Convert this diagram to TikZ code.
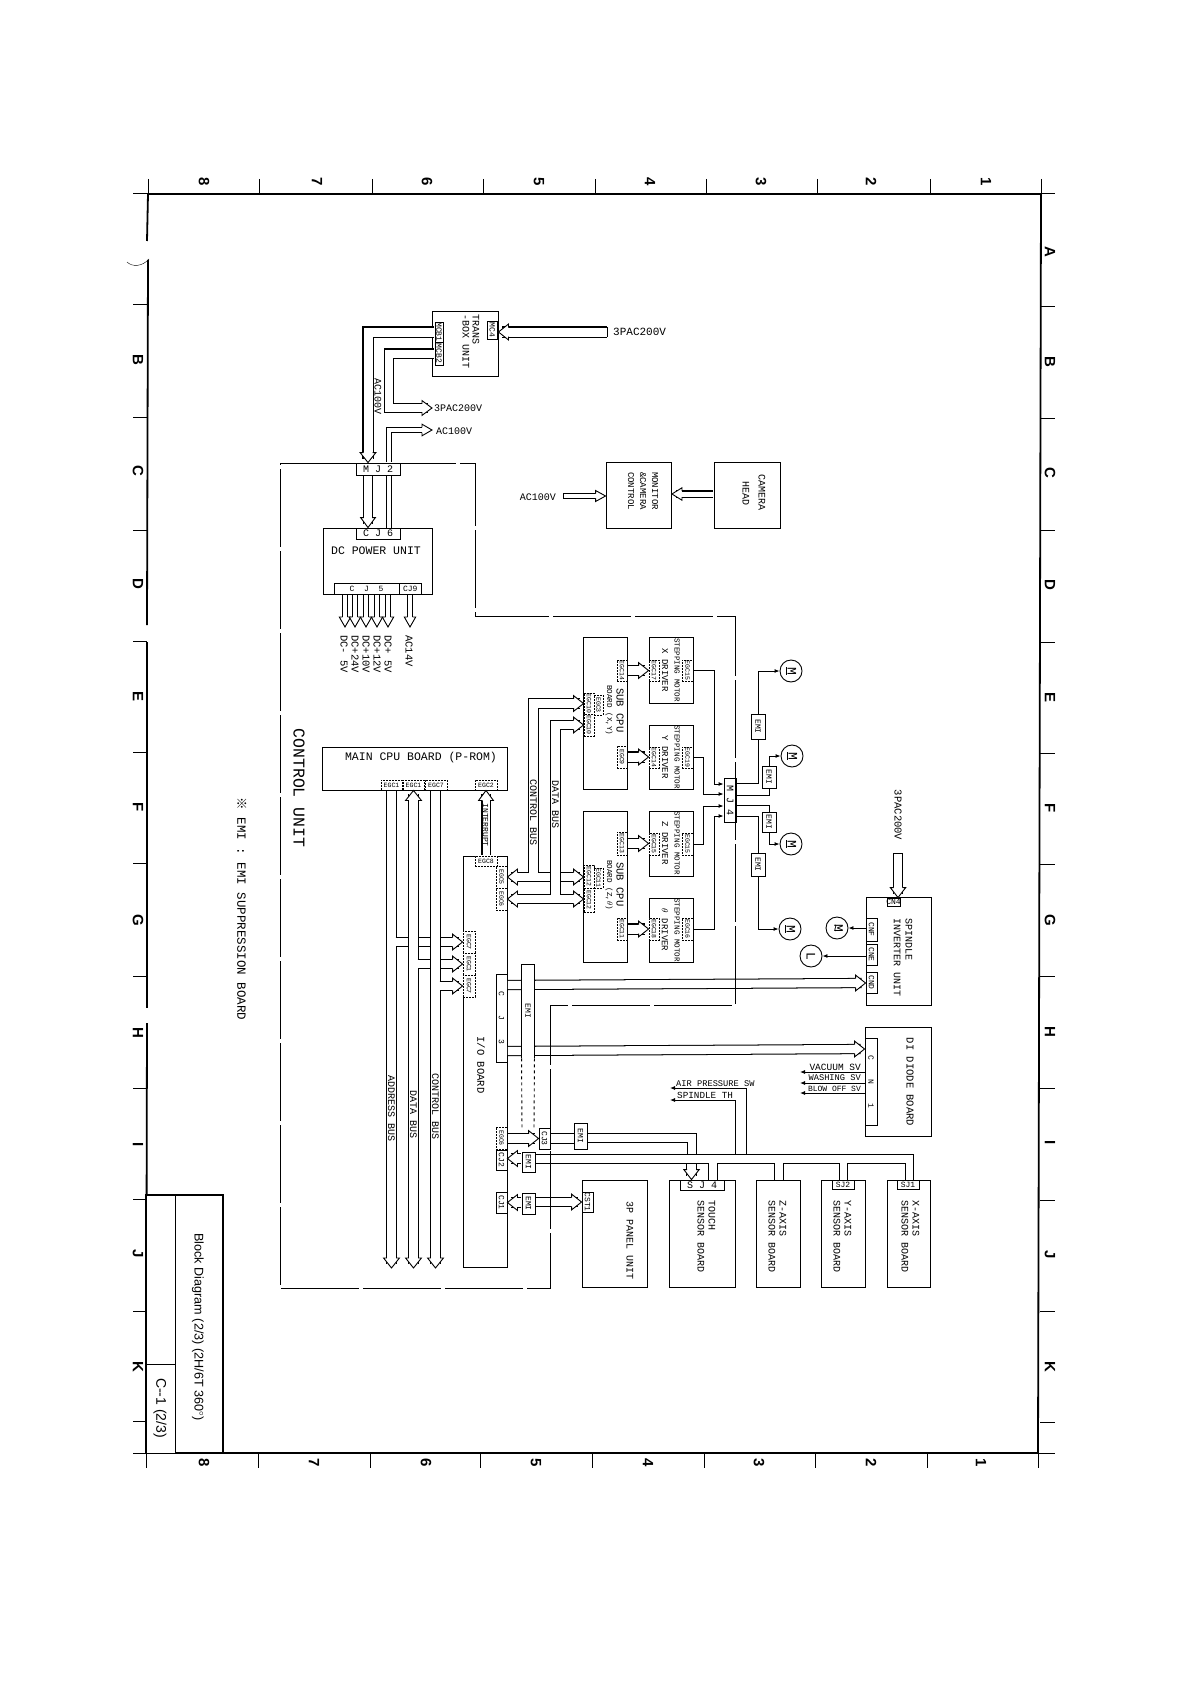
\documentclass[tikz,border=0pt]{standalone}
\usepackage{fontspec}
\setmainfont{Liberation Mono}
\newfontfamily\titlefont{Liberation Sans}
\newfontfamily\notefont{Noto Sans CJK JP}
\usetikzlibrary{arrows.meta}
\usetikzlibrary{fit}

\tikzset{
    box/.style={draw, fill=white, inner sep=0pt, line width=.9pt},
    egcline/.style={box, dash pattern=on 2pt off 1pt},
    wire/.style={line width=.9pt},
    wireto/.style={wire, -{Latex[length=5pt,width=4pt]}},
    ctrlline/.style={line width=.9pt, dash pattern=on 78pt off 4pt},
    framel/.style={line width=1.8pt},
    tickl/.style={line width=1pt},
    bus/.style={line width=1.01pt, double, double distance=#1, shorten <=.4pt},
    tohead/.style={shorten >=4pt},
    lab/.style={inner sep=0pt, font=\fontsize{10}{11}\selectfont},
    vlab/.style={lab, rotate=-90},
    smallv/.style={vlab, font=\fontsize{7.6}{9}\selectfont},
    conv/.style={vlab, font=\fontsize{8}{9}\selectfont},
    conh/.style={lab, font=\fontsize{8}{9}\selectfont},
    conw/.style={lab},
    convw/.style={vlab},
    egcv/.style={vlab, font=\fontsize{6.5}{7}\selectfont},
    egch/.style={lab, font=\fontsize{6.5}{7}\selectfont},
    gridlab/.style={inner sep=0pt, rotate=-90, font=\titlefont\bfseries\fontsize{15}{15}\selectfont},
    motor/.style={draw, fill=white, circle, inner sep=0pt, minimum size=22pt, line width=.9pt, font=\fontsize{13}{13}\selectfont},
    pics/bushead/.style={code={
        \draw[wire, fill=white] (-10,-#1) -- (-10,{-(#1+3.2)}) -- (0,0) -- (-10,{#1+3.2}) -- (-10,#1);
    }}
}

% box with a text in the middle
\newcommand{\conn}[7][conv]{%
    \node[box, fit={(#3,#4) (#5,#6)}] (#2) {};
    \node[#1] (#2lab) at (#2) {#7};
}
\newcommand{\egcbox}[7][egcv]{%
    \node[egcline, fit={(#3,#4) (#5,#6)}] (#2) {};
    \node[#1] (#2lab) at (#2) {#7};
}
\newcommand{\bushead}[3][4.7]{\pic[rotate=#2] at (#3) {bushead=#1};}

\begin{document}
\begin{tikzpicture}[x=1pt, y=-1pt]
    \useasboundingbox (0,0) rectangle (1191,1685);

    % sheet frame
    \draw[framel] (148,194) -- (1041,194) -- (1038,1453) -- (146,1453);
    \draw[framel] (148,194) -- (147,241);
    \draw[framel] (148,260) -- (147,625);
    \draw[framel] (147,642) -- (147,1008);
    \draw[framel] (147,1023) -- (146,1453);
    \draw (127,262) .. controls (132,267) and (142,267) .. (149,259);
    \foreach \x in {148,259,372,483,595,706,817,930,1041}
        \draw[tickl] (\x,179) -- (\x,194);
    \foreach \x in {146,258,370,480,592,704,815,927,1038}
        \draw[tickl] (\x,1453) -- (\x,1468);
    \foreach \y in {307,418,530,642,753,864,976,1088,1200,1311,1422}
        \draw[tickl] (1040,\y) -- (1055,\y);
    \foreach \y in {305,417,530,641,752,863,976,1088,1199,1311,1421}
        \draw[tickl] (133,\y) -- (147,\y);
    \draw[tickl] (133,194) -- (148,194);
    \draw[tickl] (1041,194) -- (1055,194);
    \draw[tickl] (133,1453) -- (146,1453);
    \draw[tickl] (1038,1453) -- (1055,1453);
    \foreach \n/\x in {8/204,7/317,6/427,5/539,4/650,3/761,2/871,1/986}
        \node[gridlab] (top\n) at (\x,182) {\n};
    \foreach \n/\x in {8/204,7/314,6/426,5/536,4/648,3/759,2/871,1/981}
        \node[gridlab] (bot\n) at (\x,1463) {\n};
    \foreach \n/\y in {A/252,B/362,C/473,D/585,E/697,F/808,G/920,H/1032,I/1143,J/1255,K/1367}
        \node[gridlab] (right\n) at (1050,\y) {\n};
    \foreach \n/\y in {B/360,C/471,D/584,E/696,F/807,G/920,H/1033,I/1145,J/1254,K/1367}
        \node[gridlab] (left\n) at (138,\y) {\n};

    % title block
    \node[box, fit={(146,1195) (223,1453)}, line width=1.4pt] (titlebox) {};
    \node[box, fit={(146,1195) (175,1453)}] (titleleft) {};
    \node[box, fit={(146,1364) (175,1453)}] (titlenum) {};
    \node[inner sep=0pt, rotate=-90, font=\titlefont\fontsize{12.6}{14}\selectfont] (titletext) at (198,1327) {Block Diagram (2/3) (2H/6T 360$^\circ$)};
    \node[inner sep=0pt, rotate=-90, font=\titlefont\fontsize{14}{16}\selectfont] (titlesheet) at (160,1408) {C--1 (2/3)};

    % units
    \node[box, fit={(432.5,311) (498,376)}] (trans) {};
    \node[box, fit={(323,528) (432,594)}] (power) {};
    \node[box, fit={(606,462) (671.5,528)}] (monitor) {};
    \node[box, fit={(714,462) (780,528)}] (camera) {};
    \node[box, fit={(322,747) (507,790)}] (maincpu) {};
    \node[box, fit={(463,856) (507,1267)}] (ioboard) {};
    \node[box, fit={(583,637) (627,789)}] (subxy) {};
    \node[box, fit={(583,811) (627,962)}] (subzt) {};
    \node[box, fit={(649,637) (693,703)}] (drvx) {};
    \node[box, fit={(649,725) (693,789)}] (drvy) {};
    \node[box, fit={(649,811) (693,876)}] (drvz) {};
    \node[box, fit={(649,898) (693,962)}] (drvt) {};
    \node[box, fit={(866,897) (931,1005)}] (spindle) {};
    \node[box, fit={(865,1027) (931,1136)}] (diode) {};
    \node[box, fit={(582,1180) (647,1287)}] (panel) {};
    \node[box, fit={(669,1180) (735,1287)}] (touch) {};
    \node[box, fit={(756,1180) (800,1287)}] (zaxis) {};
    \node[box, fit={(821,1180) (865,1287)}] (yaxis) {};
    \node[box, fit={(887,1180) (930,1287)}] (xaxis) {};

    % connectors
    \conn{mc4}{487.5}{321}{497}{339}{MC4}
    \conn{mcb1}{435}{322}{443}{342}{MCB1}
    \conn{mcb2}{435}{342}{443}{365}{MCB2}
    \conn[conw]{mj2}{356}{463}{400}{475}{M~J~2}
    \conn[conw]{cj6}{356}{528}{400}{539}{C~J~6}
    \conn[conh]{cj5}{334}{583}{399}{594}{C~~J~~5}
    \conn[conh]{cj9}{399}{583}{421.5}{594}{CJ9}
    \conn[convw]{mj4}{724}{778}{736}{822}{M~J~4}
    \conn[conh]{cn4}{887}{898}{900}{906}{CN4}
    \conn{cnf}{866}{918}{877}{941}{CNF}
    \conn{cne}{866}{944}{877}{965}{CNE}
    \conn{cnd}{866}{972}{877}{993}{CND}
    \conn{cndi}{865}{1038}{877}{1125}{C~~~~N~~~~1}
    \conn{cjio}{496}{974}{507}{1062}{C~~~~J~~~~3}
    \conn{cjb}{496}{1150}{507}{1170}{CJ2}
    \conn{cja}{496}{1192}{507}{1213}{CJ1}
    \conn{cjc}{539}{1128}{550}{1149}{CJ3}
    \conn{cst}{582}{1192}{593}{1212}{CST1}
    \conn[conw]{sj4}{680}{1180}{724}{1190}{S~J~4}
    \conn[conh]{sj2}{832}{1180}{854}{1189}{SJ2}
    \conn[conh]{sj1}{897}{1180}{919}{1189}{SJ1}

    % EGC connectors
    \egcbox[egch]{egca}{381}{780}{402}{790}{EGC1}
    \egcbox[egch]{egcb}{403}{780}{424}{790}{EGC1}
    \egcbox[egch]{egcc}{425}{780}{447}{790}{EGC7}
    \egcbox[egch]{egcd}{475}{780}{497}{790}{EGC2}
    \egcbox[egch]{egce}{475}{856}{497}{866}{EGC8}
    \egcbox{egcf}{496}{866}{507}{888}{EGC5}
    \egcbox{egcg}{496}{888}{507}{910}{EGC6}
    \egcbox{egch}{463}{931}{475}{953}{EGC7}
    \egcbox{egci}{463}{953}{475}{975}{EGC1}
    \egcbox{egcj}{463}{975}{475}{997}{EGC7}
    \egcbox{egck}{496}{1127}{507}{1149}{EGC6}
    \egcbox{egxa}{617}{660}{627}{681}{EGC14}
    \egcbox{egxb}{617}{746}{627}{768}{EGC9}
    \egcbox{egxc}{584}{693}{594}{714}{EGC10}
    \egcbox{egxd}{584}{714}{594}{736}{EGC10}
    \egcbox{egxe}{594}{695}{603}{715}{EGC3}
    \egcbox{egza}{617}{832}{627}{855}{EGC13}
    \egcbox{egzb}{617}{918}{627}{940}{EGC11}
    \egcbox{egzc}{584}{865}{594}{888}{EGC12}
    \egcbox{egzd}{584}{888}{594}{912}{EGC12}
    \egcbox{egze}{594}{868}{603}{888}{EGC11}
    \egcbox{dxa}{649}{660}{659}{681}{EGC17}
    \egcbox{dxb}{682}{660}{693}{681}{EGC15}
    \egcbox{dya}{649}{747}{659}{768}{EGC14}
    \egcbox{dyb}{682}{747}{693}{768}{EGC19}
    \egcbox{dza}{649}{833}{659}{855}{EGC15}
    \egcbox{dzb}{682}{833}{693}{855}{EGC15}
    \egcbox{dta}{649}{918}{659}{940}{EGC18}
    \egcbox{dtb}{682}{918}{693}{940}{EGC16}

    % free ends
    \coordinate (pacin) at (607,332);
    \coordinate (pacout) at (432,408);
    \coordinate (acout) at (432,430);
    \coordinate (acin) at (563,496);
    \coordinate (pacsp) at (898,853);
    \coordinate (adrend) at (391.5,1268);
    \coordinate (datend) at (413.5,1268);
    \coordinate (ctlend) at (435.5,1268);

    % power side
    \draw[bus=9pt, tohead] (pacin) -- (trans.east |- pacin);
    \bushead{180}{trans.east |- pacin}
    \draw[wire] ([yshift=-5pt]pacin) -- ([yshift=5pt]pacin);
    \draw[bus=9pt, tohead] (mcb1.west) -| (368,0 |- mj2.north);
    \bushead{-90}{368,0 |- mj2.north}
    \draw[bus=8pt, tohead] (mcb2.west) -| (389,408) -- (pacout);
    \bushead[4.2]{0}{pacout}
    \draw[bus=4pt, tohead] (389,0 |- mj2.north) |- (acout);
    \bushead[2.6]{0}{acout}
    \draw[bus=8pt, tohead] (368,0 |- mj2.south) -- (368,0 |- cj6.north);
    \bushead[4.2]{-90}{368,0 |- cj6.north}
    \draw[bus=3.4pt] (389,0 |- mj2.south) -- (389,0 |- cj6.north);
    \foreach \x in {345,355,366,377,388} {
        \draw[bus=4pt, tohead] (\x,0 |- cj5.south) -- (\x,627);
        \bushead[2.5]{-90}{\x,627}
    }
    \draw[bus=4pt, tohead] (410,0 |- cj9.south) -- (410,627);
    \bushead[2.5]{-90}{410,627}

    % camera
    \draw[bus=5pt, tohead] (camera.west |- 0,494) -- (monitor.east |- 0,494);
    \bushead[3]{180}{monitor.east |- 0,494}
    \draw[bus=3.7pt, tohead] (acin) -- (monitor.west |- acin);
    \bushead[2.3]{0}{monitor.west |- acin}
    \draw[wire] ([yshift=-2.3pt]acin) -- ([yshift=2.3pt]acin);

    % main buses
    \draw[bus=8.2pt, tohead] (391.5,0 |- egca.south) -- (adrend);
    \bushead{-90}{adrend}
    \draw[bus=8.2pt, tohead] (395.2,942) -- (egch.west);
    \bushead{0}{egch.west}
    \draw[bus=8.2pt, tohead, shorten <=4pt] (413.5,0 |- egcb.south) -- (datend);
    \bushead{90}{413.5,0 |- egcb.south}
    \bushead{-90}{datend}
    \draw[bus=8.2pt, tohead] (417.2,964) -- (egci.west);
    \bushead{0}{egci.west}
    \draw[bus=8.2pt, tohead] (435.5,0 |- egcc.south) -- (ctlend);
    \bushead{-90}{ctlend}
    \draw[bus=8.2pt, tohead] (439.2,986) -- (egcj.west);
    \bushead{0}{egcj.west}
    \draw[bus=7pt, shorten >=4pt] (egce.north) -- (egcd.south);
    \bushead[4.2]{90}{egcd.south}

    % sub cpu buses
    \draw[bus=8.2pt, tohead, shorten <=4pt] (egcf.east) -- (egzc.west |- egcf.east);
    \bushead{180}{egcf.east}
    \bushead{0}{egzc.west |- egcf.east}
    \draw[bus=8.2pt, tohead, shorten <=4pt] (egcg.east) -- (egzd.west |- egcg.east);
    \bushead{180}{egcg.east}
    \bushead{0}{egzd.west |- egcg.east}
    \draw[bus=8.2pt, tohead] (533.5,873.4) |- (egxc.west);
    \bushead{0}{egxc.west}
    \draw[bus=8.2pt, tohead] (555.5,895.4) |- (egxd.west);
    \bushead{0}{egxd.west}
    \foreach \a/\b in {egxa/dxa,egxb/dya,egza/dza,egzb/dta} {
        \draw[bus=9pt, tohead] (\a.east) -- (\b.west |- \a.east);
        \bushead{0}{\b.west |- \a.east}
    }

    % stepping motors
    \draw[wireto] (dxb.east) -| (714,784) -- (mj4.west |- 0,784);
    \draw[wireto] (dyb.east) -| (703,794) -- (mj4.west |- 0,794);
    \draw[wireto] (dzb.east) -| (703,806) -- (mj4.west |- 0,806);
    \draw[wireto] (dtb.east) -| (714,816) -- (mj4.west |- 0,816);
    \conn{emia}{751}{714}{765}{739}{EMI}
    \conn{emib}{762}{766}{776}{788}{EMI}
    \conn{emic}{762}{812}{776}{832}{EMI}
    \conn{emid}{751}{853}{765}{876}{EMI}
    \node[motor] (moa) at (791,671) {\rotatebox{-90}{\underline{M}}};
    \node[motor] (mob) at (792,756) {\rotatebox{-90}{\underline{M}}};
    \node[motor] (moc) at (791,844) {\rotatebox{-90}{\underline{M}}};
    \node[motor] (mod) at (790,929) {\rotatebox{-90}{\underline{M}}};
    \node[motor] (mos) at (837,928) {\rotatebox{-90}{\shortstack{M\\[-5pt]\textasciitilde}}};
    \node[motor] (lamp) at (811,956) {\rotatebox{-90}{L}};
    \draw[wire] (mj4.east |- 0,783) -| (emia.south);
    \draw[wireto] (emia.north) |- (moa.west);
    \draw[wire] (mj4.east |- 0,795) -| (emib.south);
    \draw[wireto] (emib.north) |- (mob.west);
    \draw[wire] (mj4.east |- 0,805) -| (emic.north);
    \draw[wireto] (emic.south) |- (moc.west);
    \draw[wire] (mj4.east |- 0,816) -| (emid.north);
    \draw[wireto] (emid.south) |- (mod.west);

    % spindle
    \draw[wireto] (cnf.west |- mos.east) -- (mos.east);
    \draw[wireto] (cne.west |- lamp.east) -- (lamp.east);
    \draw[bus=8.2pt, tohead] (pacsp) -- (pacsp |- cn4.north);
    \bushead[4.5]{-90}{pacsp |- cn4.north}
    \draw[wire] ([xshift=-4.5pt]pacsp) -- ([xshift=4.5pt]pacsp);

    % i/o board outputs
    \draw[bus=8.2pt, tohead] (cjio.east |- 0,985) -- (cnd.west |- 0,983);
    \bushead{0}{cnd.west |- 0,983}
    \draw[bus=8.2pt, tohead] (cjio.east |- 0,1051) -- (cndi.west |- 0,1049);
    \bushead{0}{cndi.west |- 0,1049}
    \node[box, draw=none, fit={(522,965) (534,1058)}] (emistrip) {};
    \draw[wire] (emistrip.south west) -- (emistrip.north west) -- (emistrip.north east) -- (emistrip.south east);
    \node[conv] (emistriplab) at (528,1011) {EMI};
    \conn{emil}{522}{1152}{535}{1172}{EMI}
    \conn{emip}{522}{1193}{535}{1214}{EMI}
    \conn{emit}{574}{1123}{587}{1149}{EMI}
    \draw[wire, dashed] (emistrip.south west) -- (522,1130);
    \draw[wire, dashed] (emistrip.south east) -- (534,1130);
    \draw[bus=9pt, tohead] (egck.east |- cjc.west) -- (cjc.west);
    \bushead{0}{cjc.west}
    \draw[bus=8.2pt] (cjc.east) -- (emit.west |- cjc.east);
    \draw[bus=8.2pt, tohead] (emil.west |- 0,1158.5) -- (cjb.east |- 0,1158.5);
    \bushead{180}{cjb.east |- 0,1158.5}
    \draw[bus=8.2pt, tohead] (emip.west |- cja.east) -- (cja.east);
    \bushead{180}{cja.east}
    \draw[bus=8.2pt, tohead] (emip.east |- cst.west) -- (cst.west);
    \bushead{0}{cst.west}

    % sensor boards
    \coordinate (jpa) at (687,1154);
    \coordinate (jpb) at (696,1154);
    \coordinate (jth) at (735,1154);
    \coordinate (jair) at (746,1154);
    \coordinate (airend) at (670,1088);
    \coordinate (thend) at (670,1100);
    \draw[wire] (emit.east |- 0,1133) -| (jpb);
    \draw[wire] (emit.east |- 0,1142) -| (jpa);
    \draw[wire] (emil.east |- 0,1154) -| (913,0 |- sj1.north);
    \draw[wire] (emil.east |- 0,1163) -| (708,0 |- sj4.north);
    \draw[wire] (717,0 |- sj4.north) -- (717,1163) -| (774,0 |- zaxis.north);
    \draw[wire] (783,0 |- zaxis.north) -- (783,1163) -| (839,0 |- sj2.north);
    \draw[wire] (847,0 |- sj2.north) -- (847,1163) -| (905,0 |- sj1.north);
    \draw[bus=8.2pt, tohead] (691.5,1163.6) -- (691.5,0 |- sj4.north);
    \bushead[4.5]{-90}{691.5,0 |- sj4.north}
    \draw[wireto] (jair) |- (airend);
    \draw[wireto] (jth) |- (thend);
    \draw[wireto] (diode.west |- 0,1072) -- (800,1072);
    \draw[wireto] (diode.west |- 0,1083) -- (800,1083);
    \draw[wireto] (diode.west |- 0,1093) -- (800,1093);

    % control unit border
    \draw[ctrlline] (mj2.west |- 0,463) -- (280,463) -- (280,1288) -- (550,1288) -- (550,1005) -- (735,1005) -- (735,616) -- (475,616) -- (475,463) -- (mj2.east |- 0,463);

    % texts of the top part
    \node[lab, font=\fontsize{11}{12}\selectfont, anchor=west] (tpaca) at (613,332) {3PAC200V};
    \node[vlab, anchor=west] (ttrans) at (476,314) {TRANS};
    \node[vlab, anchor=west] (tbox) at (466,314) {-BOX UNIT};
    \node[vlab] (tacv) at (378,397) {AC100V};
    \node[lab, anchor=west] (tpacb) at (434,408) {3PAC200V};
    \node[lab, anchor=west] (tacb) at (436,431) {AC100V};
    \node[lab, anchor=east] (taca) at (556,497) {AC100V};
    \node[lab, font=\fontsize{11.5}{12}\selectfont] (tpower) at (376,551) {DC POWER UNIT};
    \node[vlab] (tcama) at (762,493) {CAMERA};
    \node[vlab] (tcamb) at (746,493) {HEAD};
    \node[vlab, font=\fontsize{9}{10}\selectfont] (tmona) at (655,491) {MONITOR};
    \node[vlab, font=\fontsize{9}{10}\selectfont] (tmonb) at (643,491) {\&CAMERA};
    \node[vlab, font=\fontsize{9}{10}\selectfont] (tmonc) at (631,491) {CONTROL};
    \foreach \n/\x/\t in {a/388/{DC+ 5V},b/377/{DC+12V},c/366/{DC+10V},d/355/{DC+24V},e/344/{DC- 5V},f/409/{AC14V}}
        \node[vlab, anchor=west, font=\fontsize{10.5}{11}\selectfont] (tdc\n) at (\x,635) {\t};

    % texts of the boards
    \node[vlab, font=\fontsize{16.5}{17}\selectfont] (tctrl) at (299,788) {CONTROL UNIT};
    \node[lab, font=\fontsize{11.5}{12}\selectfont] (tmain) at (421,758) {MAIN CPU BOARD (P-ROM)};
    \node[vlab] (tadr) at (391.5,1108) {ADDRESS BUS};
    \node[vlab] (tdat) at (413.5,1114) {DATA BUS};
    \node[vlab] (tctl) at (435.5,1106) {CONTROL BUS};
    \node[vlab, font=\fontsize{8}{9}\selectfont] (tint) at (485.5,825) {INTERRUPT};
    \node[vlab] (tcbus) at (533.5,812) {CONTROL BUS};
    \node[vlab] (tdbus) at (555.5,804) {DATA BUS};
    \node[vlab, font=\fontsize{10.5}{11}\selectfont] (tio) at (481,1065) {I/O BOARD};
    \node[vlab, anchor=west, font=\fontsize{10.5}{11}\selectfont] (tsubxy) at (620,688) {SUB CPU};
    \node[smallv, anchor=west] (tbrdxy) at (609,685) {BOARD (X,Y)};
    \node[vlab, anchor=west, font=\fontsize{10.5}{11}\selectfont] (tsubzt) at (620,862) {SUB CPU};
    \node[smallv, anchor=west] (tbrdzt) at (609,860) {BOARD (Z,$\theta$)};
    \foreach \n/\y/\t in {x/670/X,y/757/Y,z/843/Z,t/930/$\theta$} {
        \node[smallv] (tstep\n) at (677,\y) {STEPPING MOTOR};
        \node[vlab, font=\fontsize{9}{10}\selectfont] (tdrv\n) at (665,\y) {\t{} DRIVER};
    }
    \node[vlab, font=\fontsize{10.5}{11}\selectfont] (tpacs) at (898,815) {3PAC200V};
    \node[vlab, anchor=west] (tspa) at (909,918) {SPINDLE};
    \node[vlab, anchor=west] (tspb) at (897,918) {INVERTER UNIT};
    \node[vlab, font=\fontsize{10.5}{11}\selectfont] (tdiode) at (910,1082) {DI DIODE BOARD};
    \node[lab, font=\fontsize{9.5}{10}\selectfont, anchor=east] (tvac) at (861,1067) {VACUUM SV};
    \node[lab, font=\fontsize{8.7}{10}\selectfont, anchor=east] (twash) at (861,1078) {WASHING SV};
    \node[lab, font=\fontsize{8}{10}\selectfont, anchor=east] (tblow) at (861,1089) {BLOW OFF SV};
    \node[lab, font=\fontsize{8.7}{10}\selectfont, anchor=west] (tair) at (676,1084) {AIR PRESSURE SW};
    \node[lab, font=\fontsize{9.3}{10}\selectfont, anchor=west] (tth) at (677,1095) {SPINDLE TH};
    \node[vlab] (tpanel) at (630,1240) {3P PANEL UNIT};
    \node[vlab, anchor=west] (ttoua) at (712,1200) {TOUCH};
    \node[vlab, anchor=west] (ttoub) at (701,1200) {SENSOR BOARD};
    \node[vlab, anchor=west] (tzaa) at (783,1200) {Z-AXIS};
    \node[vlab, anchor=west] (tzab) at (772,1200) {SENSOR BOARD};
    \node[vlab, anchor=west] (tyaa) at (848,1200) {Y-AXIS};
    \node[vlab, anchor=west] (tyab) at (837,1200) {SENSOR BOARD};
    \node[vlab, anchor=west] (txaa) at (916,1200) {X-AXIS};
    \node[vlab, anchor=west] (txab) at (905,1200) {SENSOR BOARD};

    % note
    \node[vlab, font=\fontsize{12.5}{13}\selectfont] (tnote) at (242,909) {{\notefont ※} EMI : EMI SUPPRESSION BOARD};
\end{tikzpicture}
\end{document}
